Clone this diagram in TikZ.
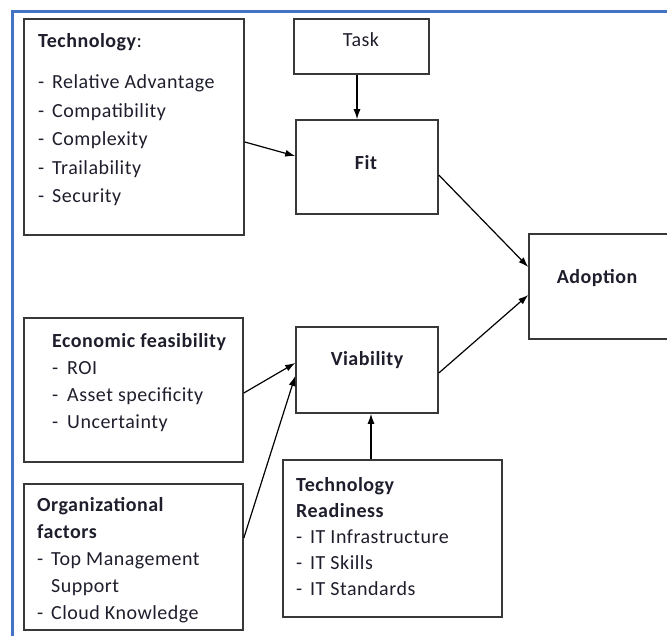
\documentclass[tikz,border=0pt]{standalone}
\usepackage{fontspec}
\setmainfont{Carlito}[LetterSpace=2.5]
\usepackage{xcolor}
\usepackage{tikz}
\usetikzlibrary{positioning}
\usetikzlibrary{arrows.meta}
\definecolor{framebl}{HTML}{4472C4}
\definecolor{boxgray}{HTML}{383838}
\definecolor{ink}{HTML}{1E1E2C}
\newcommand{\itm}[1][14pt]{\makebox[#1][l]{-}}
\tikzstyle{block} = [rectangle, draw=boxgray, line width=1.6pt, inner sep=0pt]
\tikzstyle{list} = [anchor=north west, align=left, inner sep=0pt, text=ink, font=\fontsize{20}{27}\selectfont]
\tikzstyle{head} = [inner sep=0pt, text=ink, font=\fontsize{20}{24}\selectfont\bfseries]
\tikzstyle{arrow} = [draw, line width=1.2pt, -{Latex[length=10pt,width=7pt]}]

\begin{document}
\begin{tikzpicture}[x=1pt, y=-1pt]
\useasboundingbox (0,0) rectangle (667,635);
%% frame
\draw[framebl, line width=3pt] (12,640) -- (12,11) -- (670,11);

%% fit side
\node[block, minimum width=220, minimum height=216] at (134,127) (tech) {};
\node[list, font=\fontsize{20}{28.5}\selectfont] at (38,33) (techtxt) {\textbf{Technology}:\\[13pt]
\itm Relative Advantage\\ \itm Compatibility\\ \itm Complexity\\ \itm Trailability\\ \itm Security};

\node[block, minimum width=135, minimum height=55] at (361.5,46.5) (task) {};
\node[head, font=\fontsize{20}{24}\selectfont] at (361,40) (tasktxt) {Task};

\node[block, minimum width=142, minimum height=94] at (367,167) (fit) {};
\node[head] at (366,163) (fittxt) {Fit};

\path [arrow] ([xshift=-4.5]task.south) to ([xshift=-4.5]task.south |- fit.north);
\path [arrow] ([yshift=-15]tech.east) to ([yshift=11]fit.west);

%% viability side
\node[block, minimum width=219, minimum height=144] at (133.5,390) (econ) {};
\node[list] at (52,333) (econtxt) {\textbf{Economic feasibility}\\
\itm[10pt] ROI\\ \itm[10pt] Asset specificity\\ \itm[10pt] Uncertainty};

\node[block, minimum width=219, minimum height=146] at (133.5,557) (org) {};
\node[list] at (37,497) (orgtxt) {\textbf{Organizational}\\ \textbf{factors}\\
\itm Top Management\\ \hspace*{14pt}Support\\ \itm Cloud Knowledge};

\node[block, minimum width=142, minimum height=86] at (367,370) (viab) {};
\node[head] at (367,360) (viabtxt) {Viability};

\node[block, minimum width=219, minimum height=157] at (392.5,538.5) (ready) {};
\node[list, font=\fontsize{20}{26}\selectfont] at (296,477) (readytxt) {\textbf{Technology}\\ \textbf{Readiness}\\
\itm IT Infrastructure\\ \itm IT Skills\\ \itm IT Standards};

\path [arrow] ([yshift=-3]econ.east) to ([yshift=7]viab.west);
\path [arrow] ([yshift=19]org.east) to ([yshift=-6]viab.west);
\path [arrow] ([xshift=-21.5]ready.north) to ([xshift=-21.5]ready.north |- viab.south);

%% adoption
\node[block, minimum width=141, minimum height=105] at (599.5,286.5) (adopt) {};
\node[head] at (597,278) (adopttxt) {Adoption};

\path [arrow] ([yshift=-8]fit.east) to ([yshift=19.5]adopt.west);
\path [arrow] ([yshift=-3]viab.east) to ([yshift=-8.5]adopt.west);
\end{tikzpicture}
\end{document}
